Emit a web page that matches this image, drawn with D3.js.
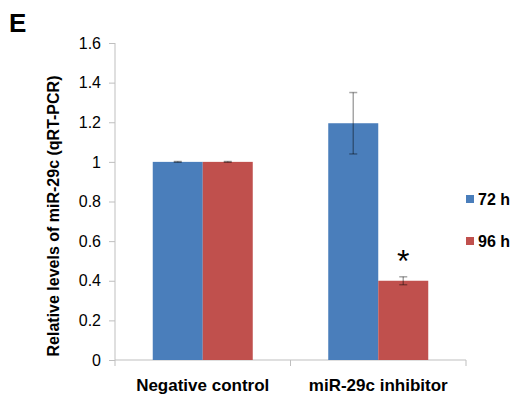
<!DOCTYPE html>
<html>
<head>
<meta charset="utf-8">
<script src="https://cdn.jsdelivr.net/npm/d3@7"></script>
<style>
    body { margin: 0; background: #fff; }
    svg { font-family: Arial, "Liberation Sans", sans-serif; }
    .axis path, .axis line { stroke: #bfbfbf; }
    .axis text { fill: #000; font-size: 16px; }
</style>
</head>
<body>
<div id="chart"></div>
<script>
// ------------------------------------------
//  Data
// ------------------------------------------
const categories = ["Negative control", "miR-29c inhibitor"]
const series = ["72 h", "96 h"]
const values72 = [1.0, 1.195]
const values96 = [1.0, 0.40]
const errors72 = [0.002, 0.155]
const errors96 = [0.002, 0.02]
const yTicks = [0, 0.2, 0.4, 0.6, 0.8, 1, 1.2, 1.4, 1.6]
const marks = [{ category: "miR-29c inhibitor", series: "96 h", label: "*" }]
const colors = { "72 h": "#4a7ebb", "96 h": "#c0504d" }

// ------------------------------------------
//  Chart
// ------------------------------------------
function drawChart() {
    const width = 513, height = 398
    const margin = { top: 43, right: 47, bottom: 38, left: 115 }
    const w = width - margin.left - margin.right
    const h = height - margin.top - margin.bottom

    const svg = d3.select("#chart").append("svg")
        .attr("width", width).attr("height", height)
    const g = svg.append("g").attr("transform", `translate(${margin.left},${margin.top})`)

    const rows = categories.map((c, i) => ({
        category: c,
        bars: [
            { series: "72 h", value: values72[i], err: errors72[i] },
            { series: "96 h", value: values96[i], err: errors96[i] }
        ]
    }))

    const x0 = d3.scaleBand().domain(categories).range([0, w]).padding(0)
    const x1 = d3.scaleBand().domain(series).range([0, x0.bandwidth()])
        .paddingInner(0).paddingOuter(0.755)
    const y = d3.scaleLinear().domain([0, 1.6]).range([h, 0])

    // y axis
    g.append("g").attr("class", "axis")
        .call(d3.axisLeft(y).tickValues(yTicks).tickFormat(d3.format("")).tickSize(6).tickPadding(8))
        .call(a => a.select(".domain").attr("d", `M0,${y(1.6)}V${h}`))

    // x axis
    const xa = g.append("g").attr("class", "axis")
        .attr("transform", `translate(0,${h})`)
    xa.append("path").attr("d", `M0,0H${w}`).attr("stroke", "#bfbfbf")
    xa.selectAll(".xt").data([0, ...categories.map(c => x0(c) + x0.bandwidth())])
        .enter().append("line")
        .attr("x1", d => d).attr("x2", d => d)
        .attr("y1", 0).attr("y2", 6)
    xa.selectAll(".xl").data(categories)
        .enter().append("text")
        .attr("x", d => x0(d) + x0.bandwidth() / 2)
        .attr("y", 31)
        .attr("text-anchor", "middle")
        .style("font-size", "17px")
        .style("font-weight", "bold")
        .text(d => d)

    // bars
    const groups = g.selectAll(".group").data(rows)
        .enter().append("g")
        .attr("transform", d => `translate(${x0(d.category)},0)`)

    groups.selectAll("rect").data(d => d.bars)
        .enter().append("rect")
        .attr("x", d => x1(d.series))
        .attr("width", x1.bandwidth())
        .attr("y", d => y(d.value))
        .attr("height", d => h - y(d.value))
        .attr("fill", d => colors[d.series])

    // error bars
    const eb = groups.selectAll(".err").data(d => d.bars)
        .enter().append("g")
        .attr("stroke", "rgba(0,0,0,0.35)")
        .attr("stroke-width", 1.5)
    eb.append("line")
        .attr("x1", d => x1(d.series) + x1.bandwidth() / 2)
        .attr("x2", d => x1(d.series) + x1.bandwidth() / 2)
        .attr("y1", d => y(d.value + d.err))
        .attr("y2", d => y(d.value - d.err))
    eb.selectAll(".cap").data(d => [
            { s: d.series, v: d.value + d.err },
            { s: d.series, v: d.value - d.err }])
        .enter().append("line")
        .attr("x1", d => x1(d.s) + x1.bandwidth() / 2 - 4)
        .attr("x2", d => x1(d.s) + x1.bandwidth() / 2 + 4)
        .attr("y1", d => y(d.v))
        .attr("y2", d => y(d.v))

    // significance marks
    g.selectAll(".mark").data(marks)
        .enter().append("text")
        .attr("x", d => x0(d.category) + x1(d.series) + x1.bandwidth() / 2)
        .attr("y", d => {
            const i = categories.indexOf(d.category)
            const v = d.series === "72 h" ? values72[i] + errors72[i] : values96[i] + errors96[i]
            return y(v) - 5
        })
        .attr("text-anchor", "middle")
        .style("font-size", "32px")
        .text(d => d.label)

    // legend
    const legend = svg.append("g").attr("transform", "translate(466,199)")
    const items = legend.selectAll("g").data(series)
        .enter().append("g")
        .attr("transform", (d, i) => `translate(0,${i * 42})`)
    items.append("rect")
        .attr("x", 0).attr("y", -4)
        .attr("width", 8).attr("height", 8)
        .attr("fill", d => colors[d])
    items.append("text")
        .attr("x", 12).attr("y", 6)
        .style("font-size", "16px")
        .style("font-weight", "bold")
        .text(d => d)

    // y axis title
    svg.append("text")
        .attr("transform", "translate(59,216) rotate(-90)")
        .attr("text-anchor", "middle")
        .style("font-size", "16px")
        .style("font-weight", "bold")
        .text("Relative levels of miR-29c (qRT-PCR)")

    // panel letter
    svg.append("text")
        .attr("x", 9).attr("y", 32)
        .style("font-size", "26px")
        .style("font-weight", "bold")
        .text("E")
}

drawChart()
</script>
</body>
</html>
